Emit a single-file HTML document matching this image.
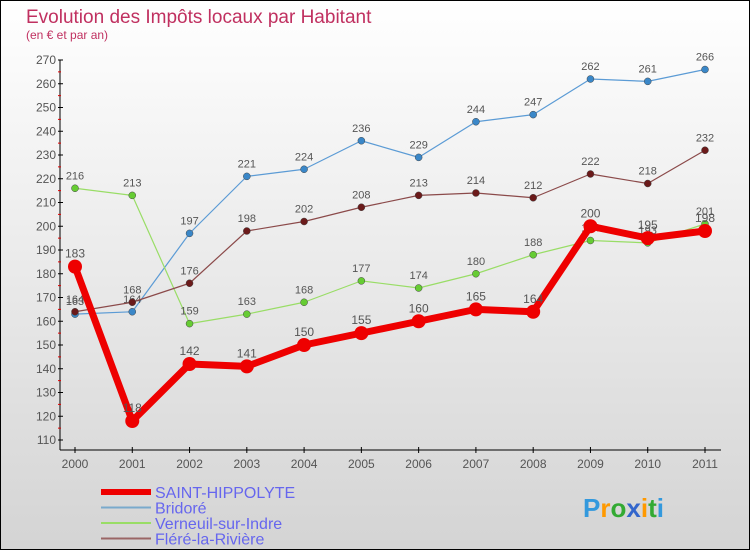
<!DOCTYPE html>
<html><head><meta charset="utf-8"><style>
body{margin:0}
#c{width:748px;height:548px;border:1px solid #000;background:linear-gradient(#fff,#d4d4d4);position:relative;font-family:"Liberation Sans",sans-serif}
</style></head><body>
<div id="c">
<svg id="s" width="748" height="548"></svg>
</div>
<script>
const years=["2000","2001","2002","2003","2004","2005","2006","2007","2008","2009","2010","2011"];
const yTicks=[110,120,130,140,150,160,170,180,190,200,210,220,230,240,250,260,270];
const saint=[183,118,142,141,150,155,160,165,164,200,195,198];
const bridore=[163,164,197,221,224,236,229,244,247,262,261,266];
const verneuil=[216,213,159,163,168,177,174,180,188,194,193,201];
const flere=[164,168,176,198,202,208,213,214,212,222,218,232];
const series=[
 {name:"bridore-line",vals:bridore,col:"#5b9bd5",dot:"#3a87c8",w:1.2,r:3.5,fs:11},
 {name:"verneuil-line",vals:verneuil,col:"#99dd66",dot:"#66cc33",w:1.2,r:3.5,fs:11},
 {name:"flere-line",vals:flere,col:"#8b4a4a",dot:"#6b1a1a",w:1.2,r:3.5,fs:11},
 {name:"saint-hippolyte-line",vals:saint,col:"#ee0000",dot:"#ee0000",w:7,r:7,fs:12}
];
const NS="http://www.w3.org/2000/svg",s=document.getElementById('s');
function X(i){return 74+i*(630/11);}
function Y(v){return 439-(v-110)*380/160;}
function el(t,a,p){const e=document.createElementNS(NS,t);for(const k in a)e.setAttribute(k,a[k]);(p||s).appendChild(e);return e;}
function tx(x,y,str,a){const e=el('text',Object.assign({x:x,y:y,'font-size':12,fill:'#555'},a));e.textContent=str;return e;}
let t=tx(25,22,"Evolution des Impôts locaux par Habitant",{'font-size':19,fill:'#c03060'});

t=tx(25,38,"(en € et par an)",{'font-size':12,fill:'#c03060'});

let ax=el('line',{x1:59,y1:Y(270),x2:59,y2:449,stroke:'#000'});

ax=el('line',{x1:59,y1:449,x2:720,y2:449,stroke:'#000'});

yTicks.forEach((v,i)=>{
 el('line',{x1:57,x2:62,y1:Y(v),y2:Y(v),stroke:'#000'});
 if(i<yTicks.length-1)el('line',{x1:57,x2:60,y1:Y(v+5),y2:Y(v+5),stroke:'#d00'});
 const l=tx(55,Y(v)+4,String(v),{'text-anchor':'end'});
 
});
years.forEach((y,i)=>{
 el('line',{x1:X(i),x2:X(i),y1:446,y2:452,stroke:'#000'});
 const l=tx(X(i),467,y,{'text-anchor':'middle'});
 
});
series.forEach(se=>{
 const g=el('g',{});
 
 el('polyline',{points:se.vals.map((v,i)=>X(i)+','+Y(v)).join(' '),fill:'none',stroke:se.col,'stroke-width':se.w,'stroke-linejoin':'round'},g);
 se.vals.forEach((v,i)=>{
  const c=el('circle',{cx:X(i),cy:Y(v),r:se.r,fill:se.dot,stroke:se.w>2?'none':'#444','stroke-width':0.5},g);
  
  const l=tx(X(i),Y(v)-9,String(v),{'text-anchor':'middle','font-size':se.fs,fill:'#555'});
  g.appendChild(l);
  
 });
});
const leg=[["SAINT-HIPPOLYTE","#ee0000",6],["Bridoré","#7aaacc",2],["Verneuil-sur-Indre","#99dd66",2],["Fléré-la-Rivière","#9a6666",2]];
leg.forEach((L,i)=>{
 const g=el('g',{});
 
 const y=491+i*15.5;
 el('line',{x1:100,x2:150,y1:y,y2:y,stroke:L[1],'stroke-width':L[2]},g);
 const l=tx(154,y+6,L[0],{'font-size':16,fill:'#6666ee'});g.appendChild(l);
});
const p=tx(582,516,"",{'font-size':26,'font-weight':'bold'});

[["P","#3399dd"],["r","#ff9900"],["o","#33aa33"],["x","#3366cc"],["i","#ff9900"],["t","#33aa33"],["i","#3399dd"]].forEach(c=>{const ts=el('tspan',{fill:c[1]},p);ts.textContent=c[0];});
</script>
</body></html>
